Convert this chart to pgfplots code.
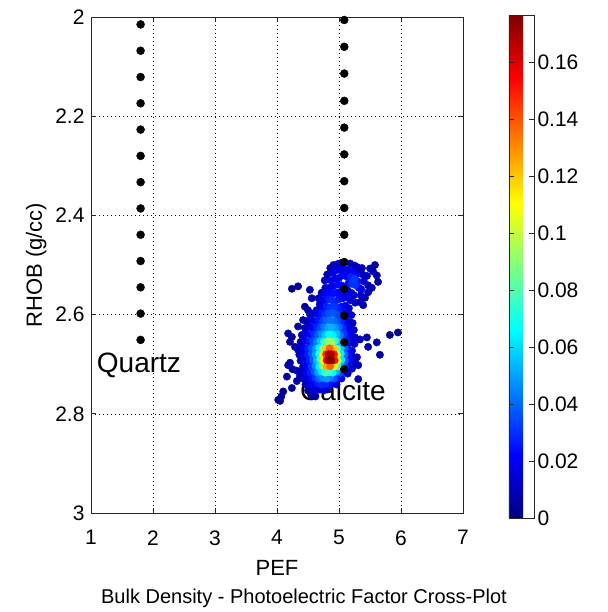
\documentclass[border=0pt]{standalone}
\usepackage{fontspec}
\setmainfont{Liberation Sans}
\usepackage{pgfplots}
\usepackage{pgfplotstable}
\pgfplotsset{compat=1.18}
\newcommand\tk{\fontsize{21bp}{25bp}\selectfont}
\newcommand\lb{\fontsize{22bp}{26bp}\selectfont}
\newcommand\an{\fontsize{28bp}{32bp}\selectfont}
\newcommand\ti{\fontsize{20bp}{24bp}\selectfont}

\pgfplotstableread{
x y c
4.24 2.548 0.004
4.34 2.543 0.005
4.53 2.550 0.008
4.56 2.567 0.009
4.67 2.567 0.010
4.45 2.584 0.006
4.50 2.591 0.007
4.64 2.591 0.012
4.42 2.611 0.008
4.34 2.624 0.007
4.24 2.645 0.006
4.21 2.655 0.006
4.18 2.638 0.005
4.29 2.665 0.008
4.34 2.671 0.010
4.18 2.702 0.006
4.21 2.697 0.007
4.25 2.710 0.007
4.32 2.713 0.009
4.16 2.725 0.005
4.32 2.734 0.008
4.37 2.724 0.009
4.24 2.748 0.005
4.10 2.755 0.004
4.07 2.765 0.004
4.02 2.772 0.003
4.05 2.774 0.003
4.55 2.762 0.006
4.62 2.765 0.006
5.95 2.636 0.003
5.82 2.641 0.004
5.66 2.681 0.005
5.61 2.656 0.006
5.47 2.665 0.007
5.45 2.646 0.008
5.34 2.650 0.010
5.29 2.686 0.010
5.31 2.702 0.009
5.26 2.697 0.010
5.21 2.709 0.011
5.31 2.730 0.007
5.20 2.681 0.012
5.58 2.500 0.006
5.50 2.507 0.009
5.55 2.513 0.008
5.61 2.521 0.007
5.63 2.534 0.006
5.45 2.522 0.012
5.40 2.533 0.013
5.47 2.541 0.010
5.53 2.546 0.008
5.47 2.555 0.009
5.42 2.566 0.009
5.36 2.549 0.013
5.34 2.575 0.009
5.39 2.581 0.007
5.35 2.561 0.012
5.38 2.519 0.012
5.37 2.506 0.008
4.86 2.506 0.008
4.91 2.500 0.009
4.98 2.498 0.010
5.03 2.496 0.011
5.18 2.497 0.009
5.25 2.501 0.010
5.29 2.504 0.010
5.33 2.511 0.009
4.81 2.519 0.009
4.77 2.531 0.010
4.78 2.546 0.012
4.90 2.516 0.015
4.95 2.511 0.017
5.02 2.510 0.018
5.09 2.508 0.016
5.16 2.511 0.019
5.22 2.514 0.021
5.28 2.519 0.018
4.87 2.531 0.017
4.94 2.527 0.020
5.00 2.526 0.021
5.06 2.521 0.019
5.12 2.523 0.022
5.19 2.524 0.028
5.25 2.528 0.032
5.30 2.533 0.024
4.84 2.546 0.016
4.91 2.543 0.020
4.98 2.539 0.023
5.04 2.541 0.021
5.15 2.537 0.024
5.21 2.538 0.030
5.27 2.541 0.030
5.32 2.546 0.020
4.72 2.556 0.012
4.70 2.569 0.011
4.69 2.579 0.010
4.78 2.557 0.018
4.84 2.555 0.022
4.90 2.558 0.024
4.97 2.556 0.022
5.02 2.554 0.020
5.08 2.553 0.018
5.14 2.551 0.017
5.20 2.556 0.015
5.24 2.561 0.012
4.76 2.571 0.020
4.83 2.569 0.026
4.88 2.571 0.029
4.94 2.573 0.027
5.00 2.569 0.024
5.06 2.567 0.020
5.12 2.565 0.017
5.18 2.571 0.014
5.26 2.576 0.011
4.74 2.586 0.019
4.80 2.584 0.027
4.86 2.586 0.031
4.93 2.584 0.031
4.98 2.587 0.027
5.04 2.584 0.023
5.10 2.582 0.018
5.16 2.587 0.014
4.53 2.599 0.010
4.60 2.597 0.014
4.66 2.599 0.020
4.72 2.597 0.026
4.78 2.599 0.031
4.84 2.598 0.035
4.90 2.597 0.037
4.96 2.599 0.034
5.02 2.598 0.028
5.08 2.597 0.022
5.14 2.599 0.017
5.20 2.601 0.011
4.48 2.613 0.009
4.55 2.611 0.014
4.61 2.613 0.020
4.68 2.611 0.026
4.74 2.613 0.033
4.80 2.611 0.039
4.86 2.612 0.042
4.92 2.613 0.040
4.98 2.611 0.034
5.04 2.613 0.027
5.10 2.612 0.020
5.16 2.615 0.014
5.22 2.617 0.010
4.45 2.627 0.009
4.52 2.625 0.014
4.58 2.627 0.021
4.64 2.625 0.028
4.70 2.627 0.035
4.76 2.625 0.043
4.82 2.627 0.050
4.88 2.626 0.053
4.94 2.627 0.048
5.00 2.625 0.040
5.06 2.627 0.030
5.12 2.625 0.021
5.18 2.629 0.014
5.24 2.631 0.010
4.40 2.641 0.010
4.47 2.639 0.016
4.54 2.641 0.023
4.60 2.639 0.030
4.66 2.641 0.038
4.72 2.639 0.047
4.78 2.641 0.058
4.84 2.640 0.066
4.90 2.641 0.064
4.96 2.639 0.054
5.02 2.641 0.042
5.08 2.639 0.031
5.14 2.641 0.022
5.20 2.643 0.014
5.26 2.646 0.010
4.38 2.655 0.010
4.45 2.653 0.017
4.52 2.655 0.025
4.58 2.653 0.034
4.64 2.655 0.044
4.70 2.653 0.056
4.76 2.655 0.074
4.82 2.654 0.092
4.88 2.655 0.092
4.94 2.653 0.074
5.00 2.655 0.054
5.06 2.653 0.038
5.12 2.655 0.025
5.18 2.657 0.016
5.25 2.659 0.010
4.36 2.669 0.011
4.43 2.667 0.019
4.50 2.669 0.027
4.56 2.667 0.037
4.62 2.669 0.048
4.68 2.667 0.064
4.74 2.669 0.088
4.79 2.668 0.120
4.85 2.668 0.138
4.91 2.668 0.120
4.97 2.669 0.086
5.03 2.667 0.058
5.09 2.669 0.038
5.15 2.671 0.024
5.21 2.673 0.014
4.36 2.681 0.010
4.43 2.679 0.018
4.50 2.681 0.027
4.56 2.679 0.037
4.62 2.681 0.050
4.68 2.679 0.070
4.74 2.681 0.104
4.79 2.680 0.145
4.83 2.680 0.165
4.87 2.680 0.170
4.92 2.680 0.150
4.97 2.681 0.104
5.03 2.679 0.064
5.09 2.681 0.040
5.15 2.683 0.024
5.21 2.685 0.013
4.38 2.693 0.010
4.45 2.691 0.018
4.52 2.693 0.027
4.58 2.691 0.038
4.64 2.693 0.054
4.70 2.691 0.078
4.75 2.692 0.112
4.80 2.692 0.155
4.84 2.692 0.1755
4.88 2.692 0.172
4.93 2.692 0.150
4.98 2.693 0.100
5.04 2.691 0.062
5.10 2.693 0.037
5.16 2.695 0.021
4.42 2.705 0.011
4.49 2.703 0.021
4.56 2.705 0.032
4.62 2.703 0.045
4.68 2.705 0.064
4.74 2.703 0.090
4.80 2.704 0.125
4.86 2.704 0.138
4.92 2.704 0.112
4.98 2.705 0.078
5.04 2.703 0.050
5.10 2.705 0.031
5.16 2.707 0.016
4.40 2.717 0.010
4.47 2.715 0.018
4.54 2.717 0.027
4.60 2.715 0.037
4.66 2.717 0.049
4.72 2.715 0.062
4.78 2.717 0.076
4.84 2.716 0.078
4.90 2.717 0.066
4.96 2.715 0.050
5.02 2.717 0.034
5.08 2.715 0.021
5.14 2.719 0.012
4.42 2.729 0.010
4.49 2.727 0.016
4.56 2.729 0.024
4.62 2.727 0.032
4.68 2.729 0.040
4.74 2.727 0.047
4.80 2.729 0.049
4.86 2.727 0.044
4.92 2.729 0.036
4.98 2.727 0.026
5.04 2.729 0.016
4.46 2.741 0.010
4.53 2.739 0.015
4.60 2.741 0.021
4.66 2.739 0.026
4.72 2.741 0.029
4.78 2.739 0.029
4.84 2.741 0.024
4.90 2.739 0.018
4.96 2.741 0.012
4.50 2.753 0.008
4.57 2.751 0.011
4.63 2.753 0.014
4.69 2.751 0.016
4.75 2.753 0.014
4.81 2.751 0.010
}\rawcloud
\pgfplotstablesort[sort key=c]{\cloud}{\rawcloud}

\begin{document}
\begin{tikzpicture}
\path[use as bounding box] (0,0) rectangle (608bp,612bp);
\begin{axis}[
  at={(91bp,99bp)}, anchor=south west,
  width=372bp, height=496bp, scale only axis,
  xmin=1, xmax=7, ymin=2, ymax=3, y dir=reverse,
  xtick={1,2,3,4,5,6,7}, xticklabels={1,2,3,4,5,6,7},
  ytick={2,2.2,2.4,2.6,2.8,3}, yticklabels={2,2.2,2.4,2.6,2.8,3},
  tick align=inside, major tick length=5bp, xtick pos=both, ytick pos=both,
  xticklabel pos=bottom, yticklabel pos=left,
  xticklabel style={yshift=-14bp},
  yticklabel style={xshift=-3bp},
  grid=major, grid style={black, line width=0.6bp, dash pattern=on 0.8bp off 3.2bp},
  axis line style={line width=0.9bp, black!85},
  tick style={line width=0.9bp, black!85},
  tick label style={font=\tk},
  xlabel={PEF}, ylabel={RHOB (g/cc)}, label style={font=\lb},
  xlabel style={yshift=-8bp},
  ylabel style={yshift=2bp},
  colormap/jet, point meta min=0, point meta max=0.1765,
  colorbar,
  colorbar shift/.style={xshift=46bp, yshift=2bp},
  colorbar style={
    at={(parent axis.north east)}, anchor=north west,
    width=25bp, height=503bp, scale only axis,
    ytick={0,0.02,0.04,0.06,0.08,0.1,0.12,0.14,0.16},
    yticklabels={0,0.02,0.04,0.06,0.08,0.1,0.12,0.14,0.16},
    tick align=inside, major tick length=5bp, ytick pos=both, yticklabel pos=right,
    yticklabel style={xshift=0bp},
    axis line style={line width=0.9bp, black!85},
    tick style={line width=0.9bp, black!85},
    tick label style={font=\tk},
  },
]
\addplot[scatter, only marks, mark=*, mark size=3.7bp, scatter src=explicit,
  scatter/use mapped color={draw=mapped color, fill=mapped color}]
  table[x=x, y=y, meta=c]{\cloud};
\addplot[only marks, mark=*, mark size=4bp, black] coordinates {
(1.80,2.015) (1.80,2.068) (1.80,2.121) (1.80,2.174) (1.80,2.227) (1.80,2.280)
(1.80,2.333) (1.80,2.386) (1.80,2.439) (1.80,2.492) (1.80,2.545) (1.80,2.598) (1.80,2.651)
};
\addplot[only marks, mark=*, mark size=4bp, black] coordinates {
(5.085,2.006) (5.085,2.060) (5.085,2.114) (5.085,2.169) (5.085,2.223) (5.085,2.277)
(5.085,2.331) (5.085,2.385) (5.085,2.439) (5.085,2.494) (5.085,2.548) (5.085,2.602)
(5.085,2.656) (5.085,2.710)
};
\node[anchor=base west, font=\an, inner sep=0] at (axis cs:1.092,2.717) {Quartz};
\node[anchor=base west, font=\an, inner sep=0] at (axis cs:4.371,2.7735) {Calcite};
\end{axis}
\node[anchor=base, font=\ti, inner sep=0] at (304bp,8.7bp) {Bulk Density - Photoelectric Factor Cross-Plot};
\end{tikzpicture}
\end{document}
